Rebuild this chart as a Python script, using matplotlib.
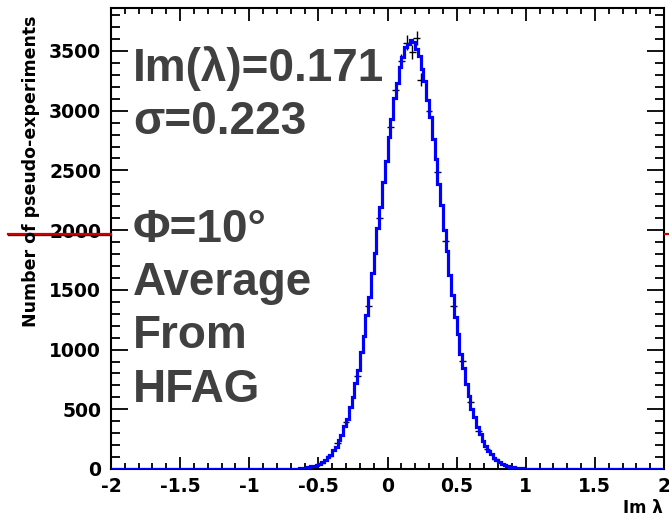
import numpy as np
import matplotlib.pyplot as plt
from matplotlib.lines import Line2D
from matplotlib.ticker import MultipleLocator

# Histogram of Im(lambda) from pseudo-experiments, 0.02 wide bins
hist_start = -0.74
bin_width = 0.02
counts = [
    0, 1, 1, 2, 3, 5, 8, 12, 14, 21, 25, 35, 44, 60, 73, 98, 120, 156, 188, 240,
    286, 357, 421, 518, 603, 722, 833, 980, 1112, 1290, 1440, 1637, 1808, 2017,
    2194, 2405, 2578, 2779, 2933, 3110, 3231, 3368, 3447, 3535, 3561, 3590, 3575,
    3518, 3462, 3352, 3247, 3091, 2950, 2762, 2595, 2389, 2210, 2000, 1823, 1621,
    1455, 1272, 1127, 966, 845, 711, 614, 506, 432, 348, 294, 232, 195, 150, 124,
    93, 77, 56, 46, 33, 27, 19, 15, 10, 8, 6, 4, 3, 2, 1, 1,
]

# black points with error bars
pts_x = [-0.55, -0.48, -0.42, -0.36, -0.30, -0.22, -0.14, -0.06, 0.02, 0.06, 0.10,
         0.14, 0.18, 0.21, 0.24, 0.30, 0.36, 0.42, 0.48, 0.54, 0.60, 0.66, 0.72, 0.78]
pts_y = [20, 50, 110, 215, 390, 780, 1365, 2100, 2860, 3175, 3420,
         3570, 3490, 3610, 3260, 3000, 2490, 1910, 1365, 905, 560, 320, 170, 85]

info_lines = ["Im(λ)=0.171", "σ=0.223", "", "Φ=10°", "Average", "From", "HFAG"]

# full binning over the axis range
edges = np.round(np.arange(-2.0, 2.0 + bin_width / 2, bin_width), 2)
full = np.zeros(len(edges) - 1)
i0 = int(round((hist_start + 2.0) / bin_width))
full[i0:i0 + len(counts)] = counts

fig = plt.figure(figsize=(6.69, 5.21), dpi=100)
ax = fig.add_axes([111 / 669, 1 - 469 / 521, (664 - 111) / 669, (469 - 8) / 521])

ax.errorbar(pts_x, pts_y, xerr=0.025, yerr=np.sqrt(pts_y), fmt='none',
            ecolor='black', elinewidth=1.0, zorder=2)
ax.stairs(full, edges, color='#0000ff', linewidth=2.3, zorder=3)

ax.set_xlim(-2, 2)
ax.set_ylim(0, 3860)

ax.xaxis.set_major_locator(MultipleLocator(0.5))
ax.xaxis.set_minor_locator(MultipleLocator(0.1))
ax.yaxis.set_major_locator(MultipleLocator(500))
ax.yaxis.set_minor_locator(MultipleLocator(100))
ax.xaxis.set_major_formatter(lambda v, p: f"{v:g}")

for s in ax.spines.values():
    s.set_linewidth(1.5)

ax.tick_params(which='both', direction='in', top=True, right=True, width=1.3,
               labelsize=13.5)
ax.tick_params(axis='x', which='major', length=9, pad=6)
ax.tick_params(axis='x', which='minor', length=4.5)
ax.tick_params(axis='y', which='major', length=12, pad=7)
ax.tick_params(axis='y', which='minor', length=6.5)
for lab in ax.get_xticklabels() + ax.get_yticklabels():
    lab.set_fontweight('bold')

fig.text(663 / 669, 1 - 513 / 521, "Im λ", ha='right', va='baseline',
         fontsize=12, fontweight='bold')
fig.text(0.046, 1 - 171 / 521, "Number of pseudo-experiments", rotation=90,
         ha='center', va='center', fontsize=12.5, fontweight='bold')

# big annotation text
for k, line in enumerate(info_lines):
    if line:
        fig.text(133 / 669, 1 - (81 + 53.5 * k) / 521, line, ha='left',
                 va='baseline', fontsize=33, fontweight='bold',
                 family=['Liberation Sans', 'DejaVu Sans'], color='#404040')

# stray red line on the left edge
fig.add_artist(Line2D([8 / 669, 111 / 669], [1 - 235 / 521] * 2, color='#222222', lw=1.0))
fig.add_artist(Line2D([8 / 669, 111 / 669], [1 - 233.5 / 521] * 2, color='#cc0000', lw=1.6))
fig.add_artist(Line2D([665 / 669, 1.0], [1 - 234 / 521] * 2, color='#cc0000', lw=1.6))

fig.savefig('out.png', dpi=100)
